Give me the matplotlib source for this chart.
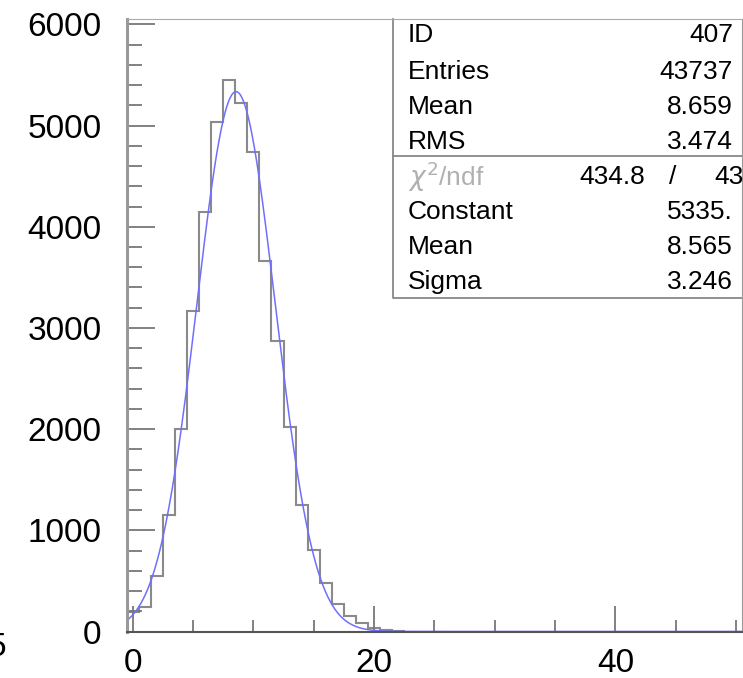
import numpy as np
import matplotlib.pyplot as plt
from matplotlib.ticker import MultipleLocator

plt.rcParams['font.family'] = ['Liberation Sans', 'DejaVu Sans']

# histogram ID 407: bins of width 1 centred on 0..50
bin_edges = np.arange(-0.5, 51.0, 1.0)
counts = [196, 245, 552, 1155, 1998, 3165, 4148, 5038, 5450, 5225,
          4735, 3658, 2868, 2025, 1250, 805, 476, 272, 150, 81,
          32, 12, 5] + [0] * 28

# gaussian fit parameters shown in the stats box
fit_constant = 5335.
fit_mean = 8.565
fit_sigma = 3.246

stat_labels = ['ID', 'Entries', 'Mean', 'RMS']
stat_values = ['407', '43737', '8.659', '3.474']
fit_labels = ['Constant', 'Mean', 'Sigma']
fit_values = ['5335.', '8.565', '3.246']
chi2, ndf = '434.8', '43'

W, H = 743, 678
fig = plt.figure(figsize=(W / 100, H / 100), dpi=100)
ax_l, ax_r, ax_t, ax_b = 126.7, 742.0, 19.3, 631.5
ax = fig.add_axes([ax_l / W, (H - ax_b) / H, (ax_r - ax_l) / W, (ax_b - ax_t) / H])

ax.stairs(counts, bin_edges, color='#8a8a8a', lw=1.5, baseline=0)

xf = np.linspace(-0.5, 50.5, 800)
yf = fit_constant * np.exp(-0.5 * ((xf - fit_mean) / fit_sigma) ** 2)
ax.plot(xf, yf, color='#6f6fff', lw=1.1)

ax.set_xlim(-0.5, 50.5)
ax.set_ylim(0, 6050)

ax.xaxis.set_major_locator(MultipleLocator(20))
ax.xaxis.set_minor_locator(MultipleLocator(5))
ax.yaxis.set_major_locator(MultipleLocator(1000))
ax.yaxis.set_minor_locator(MultipleLocator(200))
ax.tick_params(axis='both', which='both', direction='in', colors='#777777',
               labelcolor='black', labelsize=24, width=1.3)
ax.tick_params(axis='x', which='major', length=19, pad=12)
ax.tick_params(axis='x', which='minor', length=9)
ax.tick_params(axis='y', which='major', length=20, pad=18)
ax.tick_params(axis='y', which='minor', length=11)

ax.spines['left'].set_color('#999999')
ax.spines['left'].set_linewidth(2.2)
ax.spines['bottom'].set_color('#555555')
ax.spines['bottom'].set_linewidth(1.5)
ax.spines['top'].set_color('#aaaaaa')
ax.spines['right'].set_color('#999999')

# stats box in the top right corner
def fy(py):
    return (ax_b - py) / (ax_b - ax_t)

def fx(px):
    return (px - ax_l) / (ax_r - ax_l)

box_l, box_b, box_div = fx(393.3), fy(298.3), fy(156)
ax.plot([box_l, box_l, 1.0], [1.0, box_b, box_b], transform=ax.transAxes,
        color='#888888', lw=1.3, clip_on=False)
ax.plot([box_l, 1.0], [box_div, box_div], transform=ax.transAxes,
        color='#888888', lw=1.3, clip_on=False)

rows_y = [35, 71.7, 106.7, 141.7]
for lab, val, py in zip(stat_labels, stat_values, rows_y):
    ax.text(fx(408), fy(py), lab, transform=ax.transAxes, fontsize=19,
            va='center', ha='left')
    ax.text(fx(733), fy(py), val, transform=ax.transAxes, fontsize=19,
            va='center', ha='right')

ax.text(fx(408), fy(176.7), r'$\chi^2$/ndf', transform=ax.transAxes,
        fontsize=19, va='center', ha='left', color='#b0b0b0')
ax.text(fx(645), fy(176.7), chi2, transform=ax.transAxes, fontsize=19,
        va='center', ha='right')
ax.text(fx(673), fy(176.7), '/', transform=ax.transAxes, fontsize=19,
        va='center', ha='center')
ax.text(fx(744), fy(176.7), ndf, transform=ax.transAxes, fontsize=19,
        va='center', ha='right')

rows_y = [211.7, 246.7, 281.7]
for lab, val, py in zip(fit_labels, fit_values, rows_y):
    ax.text(fx(408), fy(py), lab, transform=ax.transAxes, fontsize=19,
            va='center', ha='left')
    ax.text(fx(733), fy(py), val, transform=ax.transAxes, fontsize=19,
            va='center', ha='right')

# clipped leftover glyph at the left edge
fig.text(6 / W, (H - 648) / H, '5', fontsize=24, ha='right', va='center')

fig.savefig('out.png', dpi=100)
